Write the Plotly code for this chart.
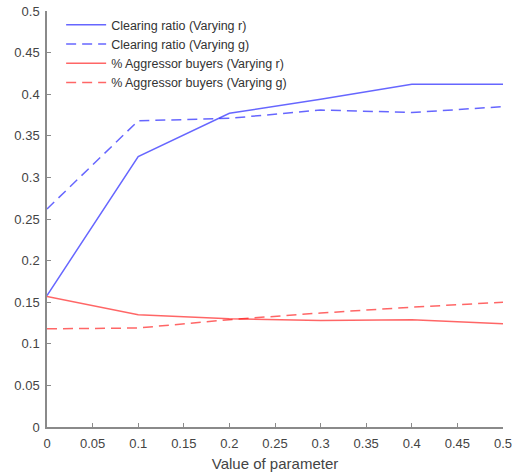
import plotly.graph_objects as go

# Parameter values swept on the x axis
param = [0, 0.1, 0.2, 0.3, 0.4, 0.5]

# Clearing ratio results
clearing_r = [0.158, 0.325, 0.377, 0.394, 0.412, 0.412]
clearing_g = [0.262, 0.368, 0.371, 0.381, 0.378, 0.385]

# Share of aggressor buyers
aggressor_r = [0.157, 0.135, 0.130, 0.128, 0.129, 0.124]
aggressor_g = [0.118, 0.119, 0.129, 0.137, 0.144, 0.150]

# Tick positions and labels shared by both axes
tick_vals = [0, 0.05, 0.1, 0.15, 0.2, 0.25, 0.3, 0.35, 0.4, 0.45, 0.5]
tick_text = ["0", "0.05", "0.1", "0.15", "0.2", "0.25", "0.3", "0.35", "0.4", "0.45", "0.5"]

blue = "rgba(0,0,255,0.6)"
red = "rgba(255,0,0,0.6)"
dashed = "10px,6px"

fig = go.Figure()
fig.add_trace(go.Scatter(x=param, y=clearing_r, mode="lines",
                         name="Clearing ratio (Varying r)",
                         line=dict(color=blue, width=1.5)))
fig.add_trace(go.Scatter(x=param, y=clearing_g, mode="lines",
                         name="Clearing ratio (Varying g)",
                         line=dict(color=blue, width=1.5, dash=dashed)))
fig.add_trace(go.Scatter(x=param, y=aggressor_r, mode="lines",
                         name="% Aggressor buyers (Varying r)",
                         line=dict(color=red, width=1.5)))
fig.add_trace(go.Scatter(x=param, y=aggressor_g, mode="lines",
                         name="% Aggressor buyers (Varying g)",
                         line=dict(color=red, width=1.5, dash=dashed)))

axis_style = dict(
    showline=True, linecolor="#8a8a8a", linewidth=1.5,
    ticks="inside", ticklen=4, tickcolor="#8a8a8a", tickwidth=1,
    showgrid=False, zeroline=False,
    tickfont=dict(size=13, color="#444444"),
    tickmode="array", tickvals=tick_vals, ticktext=tick_text,
    automargin=False, ticklabeloverflow="allow",
)

fig.update_xaxes(range=[0, 0.5],
                 title=dict(text="Value of parameter",
                            font=dict(size=15, color="#444444"),
                            standoff=8),
                 ticklabelstandoff=4,
                 **axis_style)
fig.update_yaxes(range=[0, 0.5], ticklabelstandoff=3, **axis_style)

fig.update_layout(
    width=512, height=475,
    margin=dict(l=47, r=9, t=11, b=48),
    paper_bgcolor="white", plot_bgcolor="white",
    font=dict(family="Liberation Sans, Arial, sans-serif", color="#444444"),
    showlegend=True,
    legend=dict(x=0.031, y=1.002, xanchor="left", yanchor="top",
                bgcolor="rgba(255,255,255,0)", borderwidth=0,
                font=dict(size=12.5, color="#333333"),
                tracegroupgap=0, itemwidth=40),
)

fig.write_html("out.html")
